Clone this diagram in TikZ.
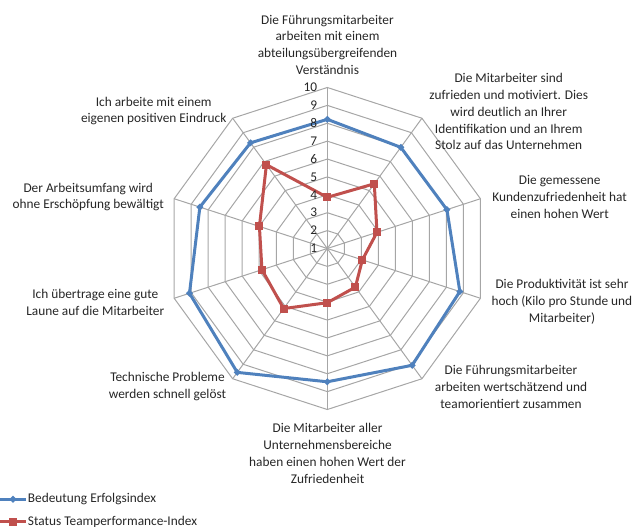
\documentclass[tikz,border=0pt]{standalone}
\usepackage{fontspec}
\setmainfont{Carlito}
\usetikzlibrary{shapes.geometric}
\definecolor{serblue}{HTML}{4F81BD}
\definecolor{serred}{HTML}{C0504D}
\definecolor{gridgray}{HTML}{A6A6A6}
\definecolor{txt}{HTML}{262626}
\tikzset{
  gridline/.style={draw=gridgray, line width=0.75pt},
  bline/.style={draw=serblue, line width=2.25pt, line join=round},
  rline/.style={draw=serred, line width=2.25pt, line join=round},
  bmark/.style={diamond, fill=serblue, inner sep=0pt, minimum size=5.5pt},
  rmark/.style={rectangle, fill=serred, inner sep=0pt, minimum size=6pt},
  lbl/.style={align=center, font=\fontsize{10}{12.6}\selectfont, text=txt, inner sep=0pt},
  ticklbl/.style={anchor=east, font=\fontsize{10}{12}\selectfont, text=txt, inner sep=0pt},
  leglbl/.style={anchor=west, font=\fontsize{10}{12}\selectfont, text=txt, inner sep=0pt},
}
\begin{document}
\begin{tikzpicture}[x=0.75pt,y=-0.75pt]
\useasboundingbox (0,0) rectangle (640,527);
\begin{scope}[shift={(327.3,248.5)}]
  % grid rings
  \foreach \k in {1,...,9}{
    \draw[gridline] (-90:\k*17.89) \foreach \j in {1,...,9}{ -- (36*\j-90:\k*17.89)} -- cycle;
  }
  % spokes
  \foreach \j in {0,...,9}{ \draw[gridline] (0,0) -- (36*\j-90:161); }
  % data coordinates
  \foreach \v [count=\i from 0] in {8.22,7.99,8.03,8.79,9.07,8.45,9.56,9.10,8.49,8.30}{
    \coordinate (b\i) at (36*\i-90:{(\v-1)*17.89});
  }
  \foreach \v [count=\i from 0] in {3.86,5.47,3.92,3.06,3.67,4.03,5.15,4.84,4.99,6.79}{
    \coordinate (r\i) at (36*\i-90:{(\v-1)*17.89});
  }
\end{scope}
% series lines
\draw[bline] (b0) -- (b1) -- (b2) -- (b3) -- (b4) -- (b5) -- (b6) -- (b7) -- (b8) -- (b9) -- cycle;
\draw[rline] (r0) -- (r1) -- (r2) -- (r3) -- (r4) -- (r5) -- (r6) -- (r7) -- (r8) -- (r9) -- cycle;
% markers
\foreach \i in {0,...,9}{
  \node[bmark] (bm\i) at (b\i) {};
  \node[rmark] (rm\i) at (r\i) {};
}
% tick labels
\foreach \t in {1,...,10}{
  \node[ticklbl] (tk\t) at (317.5,{248.5-(\t-1)*17.89}) {\t};
}
% category labels
\node[lbl] (c0) at (327.5,44.7) {Die Führungsmitarbeiter\\arbeiten mit einem\\abteilungsübergreifenden\\Verständnis};
\node[lbl] (c1) at (508.7,111.7) {Die Mitarbeiter sind\\zufrieden und motiviert. Dies\\wird deutlich an Ihrer\\Identifikation und an Ihrem\\Stolz auf das Unternehmen};
\node[lbl] (c2) at (559.7,197) {Die gemessene\\Kundenzufriedenheit hat\\einen hohen Wert};
\node[lbl] (c3) at (562,302) {Die Produktivität ist sehr\\hoch (Kilo pro Stunde und\\Mitarbeiter)};
\node[lbl] (c4) at (511,386.7) {Die Führungsmitarbeiter\\arbeiten wertschätzend und\\teamorientiert zusammen};
\node[lbl] (c5) at (327.5,453.5) {Die Mitarbeiter aller\\Unternehmensbereiche\\haben einen hohen Wert der\\Zufriedenheit};
\node[lbl] (c6) at (167.5,386.7) {Technische Probleme\\werden schnell gelöst};
\node[lbl] (c7) at (95.3,302.3) {Ich übertrage eine gute\\Laune auf die Mitarbeiter};
\node[lbl] (c8) at (88.2,197) {Der Arbeitsumfang wird\\ohne Erschöpfung bewältigt};
\node[lbl] (c9) at (153.7,111) {Ich arbeite mit einem\\eigenen positiven Eindruck};
% legend
\coordinate (lb0) at (0,499.3);
\coordinate (lb1) at (26,499.3);
\draw[bline] (lb0) -- (lb1);
\node[bmark] (lbm) at (13,499.3) {};
\node[leglbl] (lbt) at (27.7,499.3) {Bedeutung Erfolgsindex};
\coordinate (lr0) at (0,521.7);
\coordinate (lr1) at (26,521.7);
\draw[rline] (lr0) -- (lr1);
\node[rmark] (lrm) at (13,521.7) {};
\node[leglbl] (lrt) at (27.7,521.7) {Status Teamperformance-Index};
\end{tikzpicture}
\end{document}
